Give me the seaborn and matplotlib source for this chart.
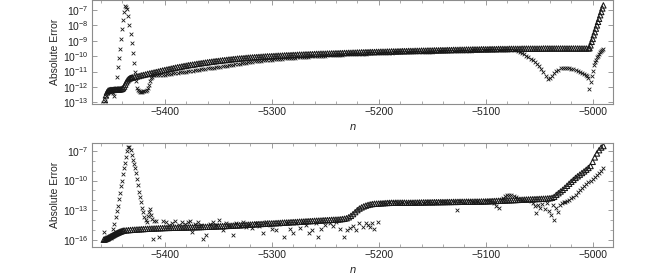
import numpy as np
import pandas as pd
import matplotlib
matplotlib.use("Agg")
import matplotlib.pyplot as plt
import matplotlib.ticker as mticker
import seaborn as sns

# values are log10(absolute error)

# ---------------- top panel ----------------
top_tri_n = list(range(-5456, -5430)) + list(range(-5430, -5003, 2)) + list(range(-5003, -4989))
top_tri_log = [
    -12.85, -12.55, -12.35, -12.25, -12.22, -12.2, -12.2, -12.2, -12.19, -12.19,
    -12.18, -12.18, -12.17, -12.17, -12.16, -12.15, -12.13, -12.08, -11.98, -11.85,
    -11.7, -11.58, -11.5, -11.45, -11.42, -11.4,
    # n = -5430 ... -5004, step 2
    -11.38, -11.35, -11.32, -11.29, -11.25, -11.22, -11.19, -11.15, -11.12, -11.09,
    -11.06, -11.03, -11.0, -10.96, -10.93, -10.9, -10.87, -10.84, -10.81, -10.78,
    -10.75, -10.72, -10.7, -10.67, -10.64, -10.62, -10.59, -10.57, -10.55, -10.53,
    -10.5, -10.48, -10.46, -10.44, -10.42, -10.4, -10.38, -10.36, -10.34, -10.32,
    -10.31, -10.29, -10.27, -10.26, -10.24, -10.22, -10.21, -10.19, -10.18, -10.16,
    -10.15, -10.14, -10.13, -10.11, -10.1, -10.09, -10.08, -10.07, -10.06, -10.05,
    -10.04, -10.03, -10.02, -10.01, -10.01, -10.0, -9.99, -9.98, -9.97, -9.97,
    -9.96, -9.95, -9.94, -9.94, -9.93, -9.92, -9.92, -9.91, -9.9, -9.9,
    -9.89, -9.88, -9.88, -9.87, -9.87, -9.86, -9.85, -9.85, -9.84, -9.84,
    -9.84, -9.83, -9.83, -9.82, -9.82, -9.81, -9.81, -9.8, -9.8, -9.79,
    -9.79, -9.78, -9.78, -9.77, -9.77, -9.76, -9.76, -9.75, -9.75, -9.74,
    -9.74, -9.73, -9.73, -9.73, -9.72, -9.72, -9.71, -9.71, -9.71, -9.7,
    -9.7, -9.69, -9.69, -9.69, -9.68, -9.68, -9.67, -9.67, -9.67, -9.66,
    -9.66, -9.66, -9.65, -9.65, -9.65, -9.64, -9.64, -9.64, -9.63, -9.63,
    -9.63, -9.62, -9.62, -9.62, -9.61, -9.61, -9.61, -9.6, -9.6, -9.6,
    -9.59, -9.59, -9.59, -9.58, -9.58, -9.58, -9.57, -9.57, -9.57, -9.56,
    -9.56, -9.56, -9.56, -9.55, -9.55, -9.55, -9.55, -9.54, -9.54, -9.54,
    -9.54, -9.53, -9.53, -9.53, -9.53, -9.53, -9.52, -9.52, -9.52, -9.52,
    -9.52, -9.52, -9.51, -9.51, -9.51, -9.51, -9.51, -9.51, -9.51, -9.51,
    -9.51, -9.51, -9.5, -9.5, -9.5, -9.5, -9.5, -9.5, -9.5, -9.5,
    -9.5, -9.5, -9.5, -9.5, -9.5, -9.5, -9.5, -9.5, -9.5, -9.5,
    -9.5, -9.5, -9.5, -9.5,
    # n = -5003 ... -4990
    -9.48, -9.3, -9.07, -8.88, -8.64, -8.44, -8.21, -8.0, -7.77, -7.57,
    -7.34, -7.13, -6.9, -6.7,
]

top_x_n = list(range(-5456, -5410)) + list(range(-5410, -5071, 2)) \
    + list(range(-5070, -5005, 2)) + list(range(-5005, -4989))
top_x_log = [
    -12.9, -12.6, -12.4, -12.3, -12.26, -12.25, -12.26, -12.3, -12.42, -12.57,
    -12.09, -11.38, -10.69, -10.14, -9.54, -8.91, -8.26, -7.66, -7.16, -6.75,
    -6.79, -6.96, -7.38, -7.98, -8.58, -9.17, -9.82, -10.47, -11.05, -11.62,
    -12.07, -12.22, -12.28, -12.3, -12.3, -12.3, -12.29, -12.27, -12.24, -12.18,
    -12.07, -11.85, -11.62, -11.45, -11.33, -11.25,
    # n = -5410 ... -5072, step 2
    -11.25, -11.24, -11.23, -11.22, -11.21, -11.2, -11.18, -11.16, -11.14, -11.12,
    -11.1, -11.08, -11.06, -11.04, -11.02, -11.0, -10.98, -10.96, -10.94, -10.92,
    -10.9, -10.88, -10.86, -10.84, -10.82, -10.8, -10.78, -10.76, -10.74, -10.72,
    -10.7, -10.68, -10.66, -10.64, -10.62, -10.6, -10.58, -10.56, -10.53, -10.51,
    -10.49, -10.47, -10.45, -10.42, -10.4, -10.38, -10.36, -10.34, -10.33, -10.31,
    -10.29, -10.28, -10.26, -10.24, -10.23, -10.22, -10.2, -10.19, -10.18, -10.17,
    -10.16, -10.14, -10.13, -10.12, -10.11, -10.1, -10.09, -10.08, -10.07, -10.06,
    -10.05, -10.04, -10.03, -10.02, -10.01, -10.0, -9.99, -9.98, -9.97, -9.97,
    -9.96, -9.95, -9.94, -9.94, -9.93, -9.92, -9.91, -9.91, -9.9, -9.89,
    -9.89, -9.88, -9.87, -9.87, -9.86, -9.85, -9.85, -9.84, -9.83, -9.83,
    -9.82, -9.82, -9.81, -9.81, -9.8, -9.79, -9.79, -9.78, -9.78, -9.77,
    -9.77, -9.77, -9.76, -9.76, -9.75, -9.75, -9.74, -9.74, -9.74, -9.73,
    -9.73, -9.73, -9.72, -9.72, -9.71, -9.71, -9.71, -9.7, -9.7, -9.7,
    -9.7, -9.69, -9.69, -9.69, -9.68, -9.68, -9.68, -9.67, -9.67, -9.67,
    -9.66, -9.66, -9.66, -9.65, -9.65, -9.65, -9.64, -9.64, -9.64, -9.63,
    -9.63, -9.63, -9.63, -9.62, -9.62, -9.62, -9.61, -9.61, -9.61, -9.6,
    -9.6, -9.6, -9.6, -9.59, -9.59, -9.59, -9.59, -9.58, -9.58, -9.6,
    # n = -5070 ... -5006, step 2
    -9.64, -9.7, -9.78, -9.87, -9.97, -10.07, -10.17, -10.27, -10.39, -10.52,
    -10.66, -10.83, -11.05, -11.3, -11.46, -11.42, -11.3, -11.12, -10.98, -10.88,
    -10.8, -10.76, -10.74, -10.75, -10.77, -10.81, -10.86, -10.92, -10.98, -11.05,
    -11.12, -11.17, -11.22,
    # n = -5005 ... -4990
    -11.3, -11.44, -12.15, -11.66, -11.29, -10.94, -10.58, -10.4, -10.22, -10.08,
    -9.96, -9.86, -9.75, -9.66, -9.58, -9.55,
]

# ---------------- bottom panel ----------------
bot_tri_n = list(range(-5457, -5438)) + list(range(-5438, -5235, 2)) \
    + list(range(-5234, -5203, 2)) + list(range(-5202, -5035, 2)) + list(range(-5034, -4989, 2))
bot_tri_log = [
    -16.0, -15.97, -15.93, -15.88, -15.82, -15.76, -15.7, -15.64, -15.58, -15.52,
    -15.46, -15.4, -15.35, -15.3, -15.25, -15.2, -15.16, -15.12, -15.09,
    # n = -5438 ... -5236, step 2
    -15.07, -15.05, -15.03, -15.01, -14.99, -14.98, -14.96, -14.95, -14.93, -14.92,
    -14.9, -14.89, -14.88, -14.87, -14.86, -14.85, -14.84, -14.83, -14.82, -14.81,
    -14.8, -14.8, -14.79, -14.79, -14.78, -14.78, -14.77, -14.77, -14.76, -14.76,
    -14.75, -14.74, -14.74, -14.73, -14.72, -14.72, -14.71, -14.7, -14.69, -14.68,
    -14.68, -14.67, -14.66, -14.65, -14.64, -14.63, -14.62, -14.61, -14.6, -14.59,
    -14.58, -14.57, -14.55, -14.54, -14.53, -14.52, -14.5, -14.49, -14.47, -14.46,
    -14.45, -14.44, -14.42, -14.41, -14.4, -14.39, -14.37, -14.36, -14.35, -14.34,
    -14.33, -14.31, -14.3, -14.29, -14.27, -14.26, -14.25, -14.24, -14.22, -14.21,
    -14.2, -14.19, -14.17, -14.16, -14.15, -14.13, -14.12, -14.11, -14.1, -14.08,
    -14.07, -14.06, -14.05, -14.03, -14.02, -14.01, -14.0, -13.98, -13.97, -13.96,
    -13.95, -13.93,
    # n = -5234 ... -5204, step 2
    -13.9, -13.87, -13.82, -13.72, -13.58, -13.4, -13.2, -13.0, -12.84, -12.72,
    -12.62, -12.54, -12.47, -12.42, -12.38, -12.35,
    # n = -5202 ... -5036, step 2
    -12.34, -12.33, -12.31, -12.3, -12.28, -12.27, -12.26, -12.25, -12.25, -12.24,
    -12.24, -12.24, -12.24, -12.24, -12.25, -12.25, -12.24, -12.24, -12.23, -12.23,
    -12.22, -12.22, -12.21, -12.21, -12.2, -12.2, -12.2, -12.19, -12.19, -12.19,
    -12.18, -12.18, -12.18, -12.17, -12.17, -12.17, -12.16, -12.16, -12.16, -12.15,
    -12.15, -12.15, -12.14, -12.14, -12.14, -12.14, -12.13, -12.13, -12.13, -12.12,
    -12.12, -12.11, -12.1, -12.09, -12.08, -12.07, -12.06, -12.05, -12.04, -12.03,
    -12.02, -12.01, -12.0, -11.99, -11.98, -11.97, -11.96, -11.95, -11.94, -11.93,
    -11.92, -11.91, -11.9, -11.89, -11.88, -11.87, -11.86, -11.85, -11.84, -11.83,
    -11.81, -11.79, -11.75, -11.65,
    # n = -5034 ... -4990, step 2
    -11.45, -11.28, -11.11, -10.94, -10.74, -10.53, -10.32, -10.12, -9.93, -9.73,
    -9.56, -9.4, -9.23, -9.07, -8.9, -8.72, -8.52, -8.1, -7.65, -7.25,
    -6.92, -6.65, -6.5,
]

bot_x_n = list(range(-5457, -5409)) + [
    -5408, -5405, -5402, -5399, -5396, -5393, -5390, -5387, -5384, -5381,
    -5378, -5376, -5375, -5372, -5369, -5366, -5364, -5361, -5358, -5355,
    -5352, -5349, -5346, -5343, -5340, -5336, -5333, -5330, -5327, -5324,
    -5321, -5318, -5315, -5312, -5308, -5305, -5302, -5300, -5296, -5293,
    -5289, -5286, -5283, -5280, -5277, -5274, -5271, -5268, -5265, -5262,
    -5259, -5257, -5254, -5250, -5246, -5243, -5240, -5236, -5232, -5230,
    -5227, -5224, -5221, -5218, -5215, -5212, -5210, -5208, -5206, -5204,
    -5201,
    -5198, -5194, -5190, -5186, -5182, -5178, -5174, -5170, -5166, -5162,
    -5158, -5154, -5150, -5146, -5142, -5138, -5134, -5130, -5127, -5124,
    -5120, -5116, -5112, -5108, -5104, -5100, -5096, -5092, -5090, -5088,
    -5086, -5084, -5082, -5080, -5078, -5076, -5074, -5072, -5070, -5066,
    -5062, -5058, -5056, -5054, -5053, -5051, -5049, -5047, -5045, -5043,
    -5041, -5039, -5037, -5036, -5034, -5032, -5031, -5029, -5027, -5026,
    -5024,
] + list(range(-5022, -4989, 2))
bot_x_log = [
    -15.2, -15.95, -15.85, -15.75, -15.9, -15.7, -15.6, -15.8, -15.5, -14.95,
    -14.4, -13.66, -13.08, -12.57, -11.89, -11.28, -10.6, -10.0, -9.35, -8.74,
    -8.17, -7.56, -7.05, -6.62, -6.58, -6.88, -7.38, -7.89, -8.3, -8.75,
    -9.25, -9.86, -10.44, -11.12, -11.63, -12.2, -12.74, -13.15, -13.66, -14.0,
    -14.17, -13.6, -13.15, -12.9, -13.5, -13.93, -15.96, -14.1,
    -14.07, -15.7, -14.1, -14.25, -14.5, -14.3, -14.15, -14.55, -14.2, -14.4,
    -14.17, -14.1, -15.19, -14.45, -14.2, -14.55, -15.96, -15.5, -14.45, -14.17,
    -14.5, -14.0, -15.0, -14.35, -14.6, -15.5, -14.3, -14.6, -14.25, -14.7,
    -14.5, -14.84, -14.3, -14.6, -15.35, -14.25, -14.5, -14.94, -15.0, -14.4,
    -15.7, -14.3, -14.94, -15.29, -14.35, -14.84, -14.17, -14.5, -15.35, -15.0,
    -14.3, -15.7, -14.94, -14.5, -14.33, -14.6, -14.2, -14.94, -15.7, -15.0,
    -14.84, -14.6, -15.0, -14.27, -14.7, -14.27, -14.5, -14.67, -14.3, -14.94,
    -14.17,
    -12.32, -12.26, -12.2, -12.22, -12.27, -12.2, -12.26, -12.22, -12.28, -12.2,
    -12.26, -12.18, -12.24, -12.16, -12.22, -12.2, -12.15, -12.2, -13.0, -12.12,
    -12.18, -12.1, -12.17, -12.08, -12.15, -12.08, -12.12, -12.3, -12.6, -12.8,
    -12.0, -11.8, -11.6, -11.5, -11.45, -11.48, -11.55, -11.7, -11.85, -11.95,
    -11.98, -12.05, -12.3, -12.6, -13.3, -12.5, -12.8, -12.4, -12.9, -12.3,
    -13.1, -13.5, -12.5, -14.0, -12.8, -13.2, -12.47, -12.3, -12.2, -12.13,
    -12.05,
    -11.96, -11.8, -11.62, -11.42, -11.2, -10.98, -10.77, -10.56, -10.35, -10.18,
    -10.02, -9.85, -9.66, -9.46, -9.25, -9.0, -8.75,
]

x_ticks = [-5400, -5300, -5200, -5100, -5000]
top_yticks = [1e-13, 1e-12, 1e-11, 1e-10, 1e-9, 1e-8, 1e-7]
bot_yticks = [1e-16, 1e-13, 1e-10, 1e-7]
bot_yminor = [1e-15, 1e-14, 1e-12, 1e-11, 1e-9, 1e-8]

sns.set_style("ticks")
plt.rcParams["font.family"] = ["Liberation Sans", "DejaVu Sans"]
plt.rcParams["mathtext.fontset"] = "custom"
plt.rcParams["mathtext.rm"] = "Liberation Sans"
plt.rcParams["mathtext.it"] = "Liberation Sans:italic"
plt.rcParams["font.size"] = 7.5

FRAME = "#8c8c8c"
INK = "#181818"

fig, axes = plt.subplots(2, 1, figsize=(6.64, 2.76), dpi=100)
fig.subplots_adjust(left=0.1386, right=0.9232, top=1.0, bottom=0.105, hspace=0.375)


def frame(df_tri, df_x, ax, ylim, yticks, yminor):
    sns.scatterplot(data=df_tri, x="n", y="err", ax=ax, marker="^", s=15,
                    facecolor="none", edgecolor=INK, linewidth=0.75, legend=False)
    sns.scatterplot(data=df_x, x="n", y="err", ax=ax, marker="x", s=7,
                    color=INK, linewidth=0.6, legend=False)
    ax.set_yscale("log")
    ax.set_xlim(-5468, -4981)
    ax.set_ylim(*ylim)
    ax.xaxis.set_major_locator(mticker.FixedLocator(x_ticks))
    ax.xaxis.set_minor_locator(mticker.MultipleLocator(20))
    ax.xaxis.set_major_formatter(mticker.FuncFormatter(lambda v, p: f"\u2212{abs(int(v))}"))
    ax.yaxis.set_major_locator(mticker.FixedLocator(yticks))
    ax.yaxis.set_minor_locator(mticker.FixedLocator(yminor))
    ax.yaxis.set_major_formatter(mticker.FuncFormatter(
        lambda v, p: r"$10^{%d}$" % int(round(np.log10(v)))))
    ax.yaxis.set_minor_formatter(mticker.NullFormatter())
    ax.tick_params(which="both", direction="in", top=True, right=True,
                   color=FRAME, labelsize=7.5, labelcolor="#222222", pad=2.5)
    ax.tick_params(which="major", length=3.5, width=0.6)
    ax.tick_params(which="minor", length=2, width=0.5)
    for sp in ax.spines.values():
        sp.set_color(FRAME)
        sp.set_linewidth(0.8)
    ax.set_xlabel("$n$", fontsize=8, labelpad=3)
    ax.set_ylabel("Absolute Error", fontsize=7.5, labelpad=2)


top_tri = pd.DataFrame({"n": top_tri_n, "err": 10.0 ** np.array(top_tri_log)})
top_x = pd.DataFrame({"n": top_x_n, "err": 10.0 ** np.array(top_x_log)})
bot_tri = pd.DataFrame({"n": bot_tri_n, "err": 10.0 ** np.array(bot_tri_log)})
bot_x = pd.DataFrame({"n": bot_x_n, "err": 10.0 ** np.array(bot_x_log)})

frame(top_tri, top_x, axes[0], (10 ** -13.11, 10 ** -6.35), top_yticks, [])
frame(bot_tri, bot_x, axes[1], (10 ** -16.74, 10 ** -6.19), bot_yticks, bot_yminor)

fig.savefig("out.png", dpi=100)
